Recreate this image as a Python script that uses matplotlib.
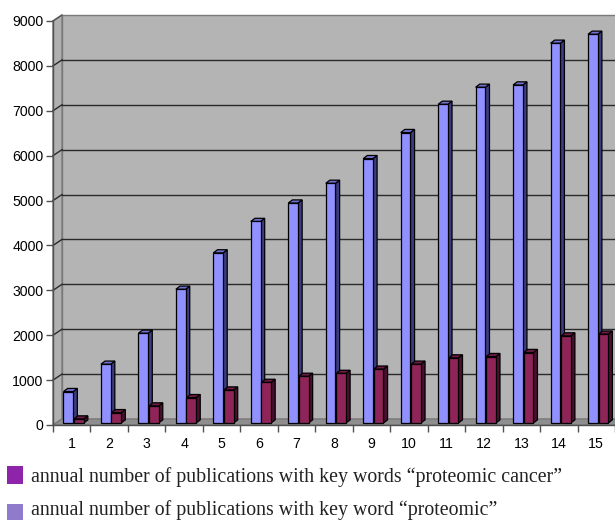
import matplotlib.pyplot as plt
from matplotlib.patches import Polygon, Rectangle
from matplotlib.transforms import ScaledTranslation

# data
categories = [str(i) for i in range(1, 16)]
proteomic = [700, 1310, 2000, 2980, 3790, 4490, 4900, 5340, 5890, 6470, 7100, 7480, 7530, 8460, 8660]
proteomic_cancer = [90, 230, 380, 565, 735, 905, 1040, 1105, 1200, 1310, 1450, 1480, 1570, 1940, 1980]
yticks = [0, 1000, 2000, 3000, 4000, 5000, 6000, 7000, 8000, 9000]
legend_labels = ["annual number of publications with key words \u201cproteomic cancer\u201d",
                 "annual number of publications with key word \u201cproteomic\u201d"]

W, H = 615, 520
fig = plt.figure(figsize=(W / 100, H / 100), dpi=100)
ax = fig.add_axes([53 / W, 95 / H, 562 / W, 404 / H])
ax.set_xlim(0, 15)
ax.set_ylim(0, 9000)
ax.patch.set_visible(False)

# 3d box of the plot (back wall, side wall, floor)
wdx, wdy = 0.24, 134
wall = '#b4b4b4'
ax.add_patch(Rectangle((wdx, wdy), 15, 9000, fc=wall, ec='#7a7a7a', lw=1, clip_on=False, zorder=0))
ax.add_patch(Polygon([(0, 0), (wdx, wdy), (wdx, 9000 + wdy), (0, 9000)], closed=True,
                     fc='#b0b0b0', ec='#7a7a7a', lw=1, clip_on=False, zorder=0))
ax.add_patch(Polygon([(0, 0), (15, 0), (15 + wdx, wdy), (wdx, wdy)], closed=True,
                     fc='#8e8e8e', ec='#7a7a7a', lw=1, clip_on=False, zorder=1))
for v in yticks[1:-1]:
    ax.plot([wdx, 15 + wdx], [v + wdy, v + wdy], color='#2a2a2a', lw=1, clip_on=False, zorder=1)
    ax.plot([0, wdx], [v, v + wdy], color='#2a2a2a', lw=1, clip_on=False, zorder=1)
ax.plot([0, wdx], [9000, 9000 + wdy], color='#555555', lw=1, clip_on=False, zorder=1)

# bars with a little depth
lift = ax.transData + ScaledTranslation(0, 0.02, fig.dpi_scale_trans)
bw = 0.26
ddx, ddy = 0.11, 70


def bars3d(xs, vals, front, side, top, z):
    ax.bar(xs, vals, width=bw, color=front, edgecolor='black', lw=0.9,
           transform=lift, zorder=z + 1)
    for x, v in zip(xs, vals):
        r = x + bw / 2
        l = x - bw / 2
        ax.add_patch(Polygon([(r, 0), (r + ddx, ddy), (r + ddx, v + ddy), (r, v)], closed=True,
                             fc=side, ec='black', lw=0.9, transform=lift, zorder=z))
        ax.add_patch(Polygon([(l, v), (r, v), (r + ddx, v + ddy), (l + ddx, v + ddy)], closed=True,
                             fc=top, ec='black', lw=0.9, transform=lift, zorder=z))


pos = range(len(categories))
bars3d([i + 0.41 for i in pos], proteomic, '#9090ff', '#3c3c82', '#7070d0', 3)
bars3d([i + 0.69 for i in pos], proteomic_cancer, '#8e2457', '#4a1030', '#6e1a44', 5)

# axes
for s in ['top', 'right']:
    ax.spines[s].set_visible(False)
for s in ['left', 'bottom']:
    ax.spines[s].set_color('#505050')
    ax.spines[s].set_linewidth(1)
    ax.spines[s].set_zorder(2)
ax.set_yticks(yticks)
ax.set_yticklabels([str(v) for v in yticks], fontsize=10.2, family='Liberation Sans')
ax.set_xticks(range(16))
ax.set_xticklabels([])
ax.set_xticks([i + 0.5 for i in pos], minor=True)
ax.set_xticklabels(categories, minor=True, fontsize=10.2, family='Liberation Sans')
ax.tick_params(axis='y', length=5, width=1, color='#505050', pad=2)
ax.tick_params(axis='x', which='major', length=5, width=1, color='#505050')
ax.tick_params(axis='x', which='minor', length=0, pad=9)

# legend drawn below
fig.add_artist(Rectangle((7 / W, 36 / H), 16 / W, 18 / H, transform=fig.transFigure,
                         fc='#8e24aa', ec='none'))
fig.add_artist(Rectangle((7 / W, 0), 16 / W, 16 / H, transform=fig.transFigure,
                         fc='#8e7bcb', ec='none'))
fig.text(31 / W, 38 / H, legend_labels[0], fontsize=14.3, family='Liberation Serif',
         color='#222222', va='baseline')
fig.text(31 / W, 5 / H, legend_labels[1], fontsize=14.3, family='Liberation Serif',
         color='#222222', va='baseline')

fig.savefig('out.png', dpi=100)
